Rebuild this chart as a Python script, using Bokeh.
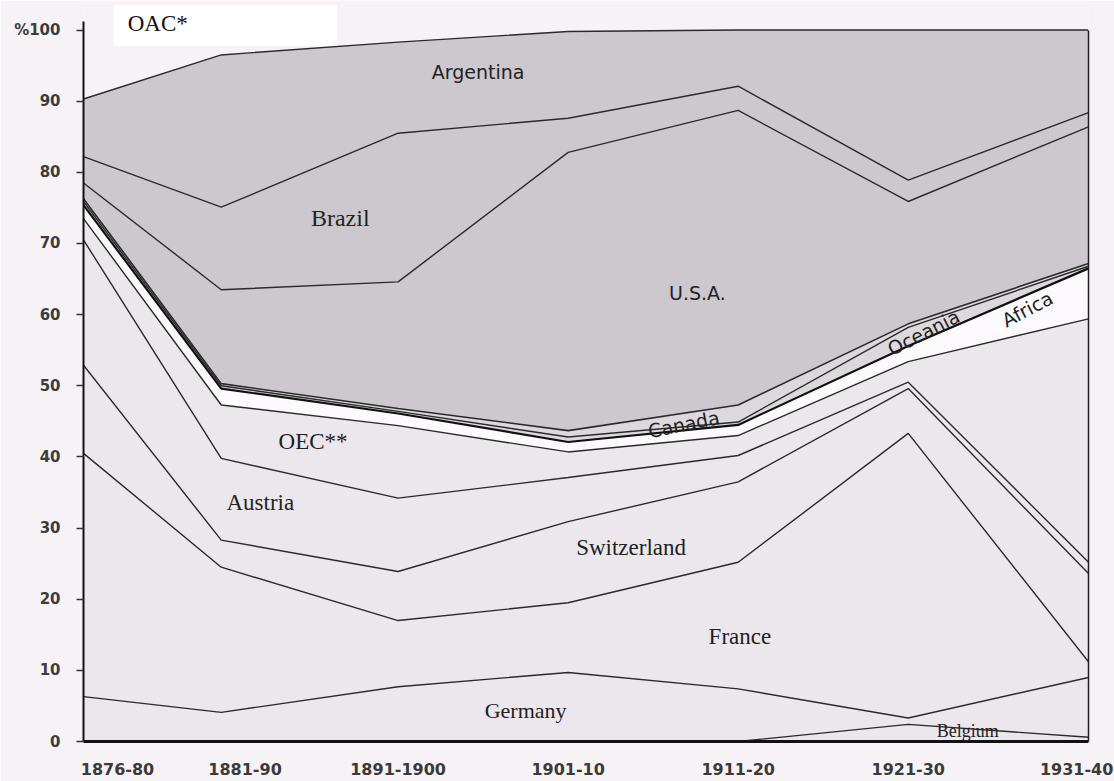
from bokeh.plotting import figure
from bokeh.models import ColumnDataSource, Range1d, FixedTicker, LinearAxis, Label
from bokeh.embed import file_html
from bokeh.resources import INLINE

# ---- data (shares in %) ----
periods = ["1876-80", "1881-90", "1891-1900", "1901-10", "1911-20", "1921-30", "1931-40"]
period_x = [1876, 1884.1, 1894.5, 1904.5, 1914.5, 1924.5, 1935.1]      # plotting positions of the periods
label_x = [1878, 1885.5, 1894.5, 1904.5, 1914.5, 1924.5, 1934.4]       # tick label positions

belgium = [0.0, 0.0, 0.0, 0.0, 0.0, 2.4, 0.6]
germany = [6.3, 4.1, 7.7, 9.7, 7.4, 0.9, 8.4]
france = [34.2, 20.4, 9.3, 9.8, 17.8, 40.0, 2.2]
switzerland = [12.4, 3.8, 6.9, 11.4, 11.3, 6.3, 12.4]
austria = [17.6, 11.5, 10.3, 6.2, 3.7, 0.9, 1.6]
oec = [3.0, 7.5, 10.2, 3.6, 2.8, 2.9, 34.2]
africa = [1.9, 2.3, 1.7, 1.4, 1.5, 2.2, 7.1]
oceania = [0.5, 0.4, 0.3, 0.7, 0.4, 2.6, 0.3]
canada = [0.4, 0.3, 0.4, 0.9, 2.4, 0.5, 0.4]
usa = [2.2, 13.2, 17.8, 39.1, 41.4, 17.2, 19.2]
brazil = [3.7, 11.6, 20.9, 4.8, 3.4, 3.0, 2.0]
argentina = [8.1, 21.4, 12.8, 12.2, 7.9, 21.1, 11.6]
oac = [9.7, 3.5, 1.7, 0.2, 0.0, 0.0, 0.0]

y_ticks = [0, 10, 20, 30, 40, 50, 60, 70, 80, 90, 100]
y_tick_labels = ["0", "10", "20", "30", "40", "50", "60", "70", "80", "90", "%100"]

series = ["Belgium", "Germany", "France", "Switzerland", "Austria", "OEC", "Africa",
          "Oceania", "Canada", "USA", "Brazil", "Argentina", "OAC"]
series_values = [belgium, germany, france, switzerland, austria, oec, africa,
                 oceania, canada, usa, brazil, argentina, oac]

# ---- styling ----
BG = "#f6f2f6"
EUR = "#ebe7ec"
AMER = "#cdc8ce"
fills = [EUR, EUR, EUR, EUR, EUR, EUR, "#fcfafc", "#dcd8dd", "#dcd8dd", AMER, AMER, AMER, BG]

data = {"x": period_x}
for name, vals in zip(series, series_values):
    data[name] = vals
source = ColumnDataSource(data)

p = figure(width=1114, height=781, output_backend="svg", toolbar_location=None,
           x_range=Range1d(1876, 1935.1), y_range=Range1d(0, 104.15),
           min_border_left=83, min_border_right=26, min_border_top=0, min_border_bottom=40)
p.title.visible = False
p.background_fill_color = BG
p.border_fill_color = BG
p.outline_line_color = None
p.xgrid.visible = False
p.ygrid.visible = False

p.varea_stack(series, x="x", source=source, color=fills)

# white box of the "OAC*" heading
p.quad(left=[1877.8], right=[1890.9], bottom=[97.8], top=[103.4], color="white")

line_series = series[:-1]
widths = [1.4] * len(line_series)
widths[6] = 2.2   # Oceania / Africa boundary (heavy line)
widths[8] = 1.6   # Canada / U.S.A. boundary
colors = ["#2a2a2a"] * len(line_series)
colors[6] = "#111111"
p.vline_stack(line_series, x="x", source=source, line_color=colors, line_width=widths)

# ---- axes ----
yax = p.yaxis[0]
yax.bounds = (0, 101.2)
yax.ticker = FixedTicker(ticks=y_ticks)
yax.major_label_overrides = {t: s for t, s in zip(y_ticks, y_tick_labels)}
yax.axis_line_color = "#111111"
yax.axis_line_width = 2
yax.major_tick_out = 7
yax.major_tick_in = 0
yax.major_tick_line_color = "#333333"
yax.major_tick_line_width = 1.5
yax.minor_tick_line_color = None
yax.major_label_standoff = 16
yax.major_label_text_font = "DejaVu Sans"
yax.major_label_text_font_style = "bold"
yax.major_label_text_font_size = "15px"
yax.major_label_text_color = "#3c3c3c"

xax = p.xaxis[0]
xax.ticker = FixedTicker(ticks=label_x)
xax.major_label_overrides = {t: s for t, s in zip(label_x, periods)}
xax.axis_line_color = "#111111"
xax.axis_line_width = 3
xax.major_tick_out = 0
xax.major_tick_in = 0
xax.minor_tick_line_color = None
xax.major_label_standoff = 21
xax.major_label_text_font = "DejaVu Sans"
xax.major_label_text_font_style = "bold"
xax.major_label_text_font_size = "16px"
xax.major_label_text_color = "#3a3a3a"

rax = LinearAxis(ticker=FixedTicker(ticks=[]), bounds=(0, 100), axis_line_color="#222222",
                 axis_line_width=1.5, major_tick_line_color=None, minor_tick_line_color=None,
                 major_label_text_font_size="0px")
p.add_layout(rax, "right")

# ---- region labels ----
labels = [
    ("Argentina", 1899.2, 94.1, 0.0, "DejaVu Sans", "19px"),
    ("Brazil", 1891.1, 73.6, 0.0, "Liberation Serif", "24px"),
    ("U.S.A.", 1912.1, 63.0, 0.0, "DejaVu Sans", "19px"),
    ("Canada", 1911.3, 44.6, 0.20, "DejaVu Sans", "19px"),
    ("Oceania", 1925.4, 57.5, 0.47, "DejaVu Sans", "19px"),
    ("Africa", 1931.5, 60.8, 0.48, "DejaVu Sans", "19px"),
    ("OEC**", 1889.5, 42.1, 0.0, "Liberation Serif", "23px"),
    ("Austria", 1886.4, 33.6, 0.0, "Liberation Serif", "23px"),
    ("Switzerland", 1908.2, 27.3, 0.0, "Liberation Serif", "23px"),
    ("France", 1914.6, 14.8, 0.0, "Liberation Serif", "23px"),
    ("Germany", 1902.0, 4.4, 0.0, "Liberation Serif", "22px"),
    ("Belgium", 1928.0, 1.5, 0.0, "Liberation Serif", "18px"),
]
for txt, lx, ly, ang, font, size in labels:
    p.add_layout(Label(x=lx, y=ly, text=txt, angle=ang, text_font=font, text_font_size=size,
                       text_color="#222222", text_align="center", text_baseline="middle"))

p.add_layout(Label(x=1878.6, y=100.9, text="OAC*", text_font="Liberation Serif",
                   text_font_size="23px", text_color="#111111", text_align="left",
                   text_baseline="middle"))

open("out.html", "w").write(file_html(p, INLINE))
